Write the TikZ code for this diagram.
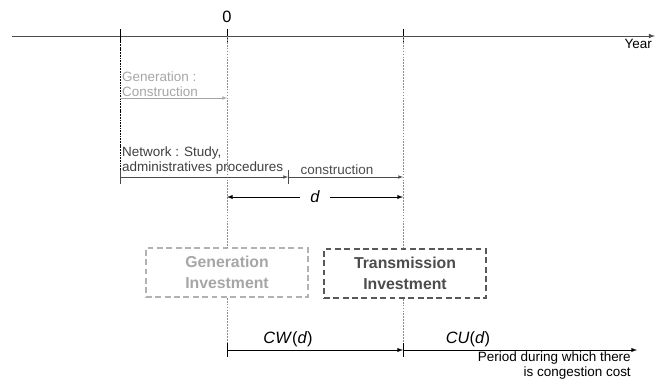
\documentclass[tikz,border=0pt]{standalone}
\usepackage{fontspec}
\setmainfont{Liberation Sans}
\usepackage{tikz}
\usetikzlibrary{arrows,positioning}
\usepackage{xcolor}

\begin{document}
\begin{tikzpicture}[x=0.03cm, y=-0.03cm, >=latex,
    txt/.style={font=\fontsize{11.5}{13}\selectfont, inner sep=0pt, align=left},
    big/.style={font=\fontsize{14}{16}\selectfont, inner sep=1pt},
    guide/.style={draw=black!45, thin, dash pattern=on 1.5pt off 1pt},
    invest/.style={draw, dash pattern=on 5pt off 3pt, line width=1.4pt, minimum width=4.86cm,
        minimum height=1.47cm, align=center, font=\fontsize{13.5}{18}\selectfont\bfseries}]
    \useasboundingbox (0,0) rectangle (658,383);
    % time axis
    \coordinate (start) at (12,36);
    \coordinate (yearend) at (655,36);
    \coordinate (tA) at (120,36);
    \coordinate (tO) at (227,36);
    \coordinate (tD) at (403,36);
    \draw[black!70, line width=0.8pt, ->] (start) -- (yearend);
    \foreach \t in {tA,tO,tD} \draw[line width=0.8pt] ([yshift=0.2cm]\t) -- ([yshift=-0.18cm]\t);
    \node[big, above=0.35cm of tO] (zero) {0};
    \node[txt, anchor=north east] (year) at (652,39) {Year};

    % investments
    \node[invest, draw=black!30, text=black!35] (gen) at (227,272.5) {Generation\\Investment};
    \node[invest, draw=black!65, text=black!70] (trans) at (405,273.5) {Transmission\\Investment};

    % guide lines
    \coordinate (nA) at (120,177);
    \draw[black, dash pattern=on 1.5pt off 0.8pt] (tA) -- (nA);
    \draw[guide] (tO) -- (gen.north);
    \draw[guide] (tD) -- (tD |- trans.north);

    % generation construction
    \coordinate (gA) at (120,98);
    \coordinate (gB) at (227,98);
    \node[txt, text=black!35, anchor=south west] (gentxt) at (122,97) {Generation :\\Construction};
    \draw[black!35, ->] (gA) -- (gB);

    % network
    \coordinate (nB) at (288,177);
    \coordinate (nC) at (403,177);
    \node[txt, text=black!75, anchor=south west] (nettxt) at (122,175) {Network : Study,\\administratives procedures};
    \draw[black!70, ->] (nA) -- (nB);
    \draw[black!70, ->] (nB) -- (nC);
    \foreach \t in {nA,nB} \draw[black!70] ([yshift=0.2cm]\t) -- ([yshift=-0.2cm]\t);
    \node[txt, text=black!70, anchor=south] (constr) at (337,175) {construction};

    % delay d
    \coordinate (dA) at (227,197);
    \coordinate (dB) at (403,197);
    \draw[<->, line width=0.7pt] (dA) -- (dB) node[midway, fill=white, big, inner xsep=0.3cm] (dlab) {\itshape d};

    % congestion costs
    \coordinate (cA) at (227,350);
    \coordinate (cB) at (403,350);
    \coordinate (cC) at (637,350);
    \draw[guide] (gen.south) -- (cA);
    \draw[guide] (tD |- trans.south) -- (cB);
    \draw[->, line width=0.7pt] (cA) -- (cB);
    \draw[->, line width=0.7pt] (cB) -- (cC);
    \foreach \t in {cA,cB} \draw[line width=0.7pt] ([yshift=0.2cm]\t) -- ([yshift=-0.2cm]\t);
    \node[big, anchor=south] (cw) at (288,348) {\textit{CW}(\textit{d})};
    \node[big, anchor=south] (cu) at (468,348) {\textit{CU}(\textit{d})};
    \node[txt, align=right, anchor=north east] (period) at (631,351) {Period during which there\\is congestion cost};
\end{tikzpicture}
\end{document}
